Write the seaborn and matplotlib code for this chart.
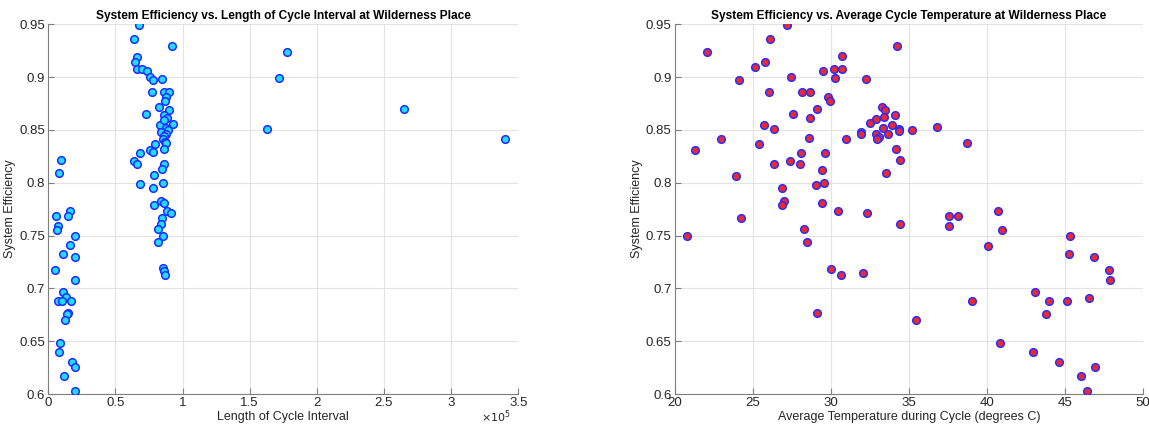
import numpy as np
import pandas as pd
import matplotlib as mpl
mpl.use("Agg")
import matplotlib.pyplot as plt
from matplotlib.ticker import FuncFormatter, MultipleLocator
import seaborn as sns

# length of cycle interval (raw units) and system efficiency, left panel
interval = [9700, 7700, 6000, 7200, 6700, 16500, 14700, 20200, 16500, 10700,
            20200, 5200, 19700, 11200, 13200, 7500, 10200, 16700, 14500, 13700,
            12500, 8700, 7700, 17700, 19700, 11500, 20200,
            67300, 64100, 91800, 66300, 64800, 66100, 69800, 73600, 75600, 77800,
            84800, 77000, 86000, 89800, 87800, 87000, 82500, 89800, 72800, 86500,
            88500, 83500, 93000, 86000, 87800, 89000, 84000, 88000, 86000, 85300,
            87000, 87500, 79300, 86500, 76100, 77800, 64100, 66100, 86500, 84800,
            68600, 78800, 68100, 85800, 78100, 84000, 86000, 78800, 88500, 91500,
            84800, 83800, 82000, 85300, 82000, 85500, 86500, 86800,
            177900, 171900, 162700, 265200, 340100]
eff_interval = [0.822, 0.809, 0.769, 0.759, 0.755, 0.773, 0.769, 0.750, 0.741, 0.733,
                0.730, 0.717, 0.708, 0.697, 0.692, 0.688, 0.688, 0.688, 0.677, 0.676,
                0.670, 0.648, 0.640, 0.630, 0.626, 0.617, 0.603,
                0.949, 0.936, 0.929, 0.919, 0.914, 0.908, 0.908, 0.906, 0.900, 0.897,
                0.898, 0.886, 0.886, 0.886, 0.881, 0.877, 0.872, 0.869, 0.865, 0.864,
                0.861, 0.855, 0.856, 0.859, 0.852, 0.850, 0.848, 0.846, 0.844, 0.841,
                0.839, 0.838, 0.837, 0.832, 0.831, 0.829, 0.821, 0.818, 0.818, 0.813,
                0.828, 0.807, 0.799, 0.800, 0.795, 0.783, 0.781, 0.779, 0.773, 0.771,
                0.767, 0.761, 0.756, 0.750, 0.744, 0.719, 0.716, 0.713,
                0.924, 0.899, 0.851, 0.870, 0.841]

# average temperature during cycle and system efficiency, right panel
temp = [27.2, 26.09, 22.07, 34.25, 30.72, 25.1, 25.79, 29.47, 30.17, 30.71,
        30.28, 27.44, 32.22, 24.1, 26.0, 28.14, 28.67, 29.83, 29.94, 29.1,
        33.29, 33.44, 34.12, 27.54, 28.65, 33.4, 32.9, 32.5, 25.73, 33.93,
        33.35, 26.37, 34.36, 34.36, 35.19, 31.9, 31.9, 32.86, 33.63, 33.05,
        32.94, 30.96, 28.61, 22.95, 34.17, 21.28, 25.38, 28.08, 29.64, 34.42,
        26.37, 27.35, 28.03, 29.44, 33.5, 23.91, 29.57, 29.06, 26.86, 27.0,
        26.84, 29.42, 30.43, 32.31, 24.23,
        20.75, 28.25, 28.46, 34.42, 30.02, 30.62, 32.03, 29.1, 35.47,
        37.56, 38.14, 37.56, 40.68, 40.96, 40.04, 45.32, 45.23, 46.84, 47.84,
        47.88, 43.1, 39.04, 44.0, 45.15, 46.54, 43.76, 40.81, 42.97, 44.63,
        46.9, 46.03, 46.39, 36.8, 38.7]
eff_temp = [0.949, 0.936, 0.924, 0.929, 0.920, 0.910, 0.914, 0.906, 0.908, 0.908,
            0.899, 0.900, 0.898, 0.897, 0.886, 0.886, 0.886, 0.881, 0.877, 0.870,
            0.872, 0.869, 0.864, 0.865, 0.861, 0.862, 0.860, 0.857, 0.855, 0.855,
            0.852, 0.851, 0.851, 0.849, 0.850, 0.848, 0.846, 0.846, 0.846, 0.843,
            0.841, 0.841, 0.842, 0.841, 0.832, 0.831, 0.837, 0.828, 0.828, 0.822,
            0.818, 0.821, 0.818, 0.812, 0.809, 0.806, 0.800, 0.798, 0.795, 0.783,
            0.779, 0.781, 0.773, 0.771, 0.767,
            0.750, 0.756, 0.744, 0.761, 0.718, 0.713, 0.715, 0.677, 0.670,
            0.769, 0.769, 0.759, 0.773, 0.755, 0.740, 0.750, 0.733, 0.730, 0.717,
            0.708, 0.697, 0.688, 0.688, 0.688, 0.691, 0.676, 0.648, 0.640, 0.630,
            0.626, 0.617, 0.603, 0.853, 0.838]

df_int = pd.DataFrame({"interval": interval, "eff": eff_interval})
df_tmp = pd.DataFrame({"temp": temp, "eff": eff_temp})

sns.set_theme(style="whitegrid")
plt.rcParams["font.family"] = ["Liberation Sans", "DejaVu Sans"]

axis_col = "#7f7f7f"
text_col = "#262626"

fig = plt.figure(figsize=(11.49, 4.28), dpi=100)
ax1 = fig.add_axes([0.042, 0.0794, 0.409, 0.8638])
ax2 = fig.add_axes([0.5875, 0.0794, 0.4073, 0.8638])

sns.scatterplot(x="interval", y="eff", data=df_int, ax=ax1, s=30,
                color="#22dcff", edgecolor="#1a2cff", linewidth=1.1, zorder=3)
sns.scatterplot(x="temp", y="eff", data=df_tmp, ax=ax2, s=30,
                color="#ec2a2e", edgecolor="#2a2cff", linewidth=1.1, zorder=3)

ax1.set_xlim(0, 350000)
ax1.xaxis.set_major_locator(MultipleLocator(50000))
ax1.xaxis.set_major_formatter(FuncFormatter(lambda v, p: "%g" % (v / 1e5)))
ax1.text(0.985, -0.038, r"$\times10^5$", transform=ax1.transAxes, ha="right",
         va="top", fontsize=8, color=text_col)
ax2.set_xlim(20, 50)
ax2.xaxis.set_major_locator(MultipleLocator(5))

titles = ["System Efficiency vs. Length of Cycle Interval at Wilderness Place",
          "System Efficiency vs. Average Cycle Temperature at Wilderness Place"]
xlabels = ["Length of Cycle Interval", "Average Temperature during Cycle (degrees C)"]

for ax, t, xl in zip([ax1, ax2], titles, xlabels):
    ax.set_ylim(0.6, 0.95)
    ax.yaxis.set_major_locator(MultipleLocator(0.05))
    ax.yaxis.set_major_formatter(FuncFormatter(lambda v, p: "%g" % round(v, 2)))
    ax.set_title(t, fontsize=8.6, fontweight="bold", color="black", pad=4)
    ax.set_xlabel(xl, fontsize=9, color=text_col, labelpad=1)
    ax.set_ylabel("System Efficiency", fontsize=9, color=text_col, labelpad=2)
    ax.grid(True, color="#e3e3e3", linewidth=0.8)
    ax.set_facecolor("white")
    for side in ["top", "right"]:
        ax.spines[side].set_visible(False)
    for side in ["left", "bottom"]:
        ax.spines[side].set_color(axis_col)
        ax.spines[side].set_linewidth(0.8)
    ax.tick_params(direction="in", length=4, width=0.8, color=axis_col,
                   labelsize=9.5, labelcolor=text_col, pad=2.5,
                   bottom=True, left=True)

fig.savefig("out.png", dpi=100)
